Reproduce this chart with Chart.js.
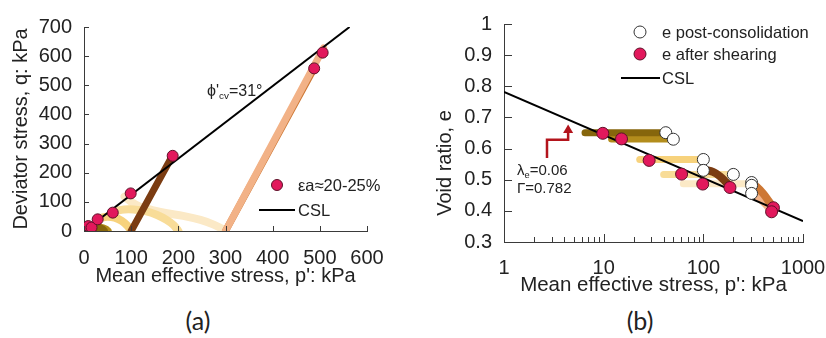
<!DOCTYPE html>
<html lang="en">
<head>
<meta charset="UTF-8" />
<script src="https://cdn.jsdelivr.net/npm/chart.js@4.4.1/dist/chart.umd.min.js"></script>
<title>Stress paths and critical state line</title>
<style>
  body { margin: 0; background: #fff; width: 826px; height: 338px; position: relative; overflow: hidden; }
  .wrap { position: absolute; top: 0; }
  .panel { position: absolute; top: 305px; font-family: Lato, "Open Sans", sans-serif; font-size: 25px; color: #222; transform: translateX(-50%); }
</style>
</head>
<body>
<div class="wrap" style="left:0"><canvas id="chartA" width="413" height="300"></canvas></div>
<div class="wrap" style="left:413px"><canvas id="chartB" width="413" height="300"></canvas></div>
<div class="panel" style="left:198px">(a)</div>
<div class="panel" style="left:640px">(b)</div>
<script>
// ---- (a) q : p' ----
const cslP = [0, 563];
const cslQ = [0, 700];

// undrained paths, p'0 = 42, 50, 100, 200, 300 kPa
const u42P = [42, 38, 31, 22, 14, 9];
const u42Q = [0, 6, 11, 14, 16, 17];
const u50P = [50, 46, 40, 32, 24, 16];
const u50Q = [0, 5, 9, 12, 13, 12];
const u100P = [100, 92, 80, 65, 50, 38, 29];
const u100Q = [0, 18, 35, 46, 49, 46, 40];
const u200P = [200, 190, 175, 155, 130, 105, 85, 65];
const u200Q = [0, 20, 38, 55, 68, 74, 74, 68];
const u300P = [300, 295, 275, 247, 210, 176, 145, 119, 100, 86];
const u300Q = [0, 6, 22, 38, 52, 61, 72, 83, 100, 118];

// drained paths
const d100P = [100, 188];
const d100Q = [0, 260];
const d300aP = [300, 488];
const d300aQ = [0, 558];
const d300bP = [300, 508];
const d300bQ = [0, 628];

// state at end of shearing (axial strain 20-25 %)
const endP = [9, 16, 29, 61, 99, 188, 488, 506];
const endQ = [17, 12, 40, 63, 129, 258, 558, 612];

// ---- (b) e : log p' ----
const lineP = [1, 1000];
const lineE = [0.782, 0.367];
const b42P = [6.5, 42];
const b42E = [0.651, 0.651];
const b50P = [12, 50];
const b50E = [0.631, 0.631];
const b100P = [23, 100];
const b100E = [0.565, 0.565];
const b200P = [40, 200];
const b200E = [0.517, 0.517];
const b300P = [63, 305];
const b300E = [0.487, 0.487];
const c100P = [104, 125, 147, 168, 185];
const c100E = [0.532, 0.525, 0.511, 0.493, 0.479];
const c300aP = [305, 340, 400, 460, 500];
const c300aE = [0.489, 0.478, 0.455, 0.428, 0.41];
const c300bP = [305, 350, 420, 484];
const c300bE = [0.456, 0.445, 0.423, 0.399];
const consP = [42, 50, 100, 100, 200, 305, 305, 305];
const consE = [0.651, 0.63, 0.565, 0.53, 0.517, 0.491, 0.482, 0.456];
const shearP = [9.8, 15.1, 28.6, 60.5, 98.6, 185, 505, 484];
const shearE = [0.649, 0.631, 0.562, 0.518, 0.486, 0.475, 0.41, 0.397];

// ticks
const xTicksA = [0, 100, 200, 300, 400, 500, 600];
const yTicksA = [0, 100, 200, 300, 400, 500, 600, 700];
const xMajorB = [1, 10, 100, 1000];
const xMinorB = [2, 3, 4, 5, 6, 7, 8, 9, 20, 30, 40, 50, 60, 70, 80, 90, 200, 300, 400, 500, 600, 700, 800, 900];
const yTicksB = [0.3, 0.4, 0.5, 0.6, 0.7, 0.8, 0.9, 1];

const FONT = '"Liberation Sans", Arial, sans-serif';
const INK = '#222';
const AXIS = '#3a3a3a';
const PINK = '#e2185c';
const PINK_EDGE = '#5e1028';
const C = {
  olive: '#86660c', gold: '#b38d1c', yellow: '#f7d27c', paleYellow: '#f8dc98',
  cream: '#fbe9c6', brown: '#7b3c12', orange: '#cd7734', peach: '#f2b287'
};

Chart.defaults.font.family = FONT;
Chart.defaults.color = INK;

const xy = (xs, ys) => xs.map((x, i) => ({ x, y: ys[i] }));

function path(label, xs, ys, color, order, width = 8) {
  return {
    label, data: xy(xs, ys), showLine: true, borderColor: color, backgroundColor: color,
    borderWidth: width, pointRadius: 0, tension: 0.35, borderCapStyle: 'round',
    borderJoinStyle: 'round', order
  };
}

function csl(xs, ys) {
  return { label: 'CSL', data: xy(xs, ys), showLine: true, borderColor: '#000', borderWidth: 2, pointRadius: 0, order: 1 };
}

function dots(label, xs, ys, fill, edge, r, order = 0) {
  return {
    label, data: xy(xs, ys), showLine: false, pointRadius: r, pointBackgroundColor: fill,
    pointBorderColor: edge, pointBorderWidth: 1, order
  };
}

// text with optional subscripts: parts = [[text, isSub], ...]
function rich(ctx, x, y, parts, size) {
  let cx = x;
  ctx.textBaseline = 'alphabetic';
  ctx.textAlign = 'left';
  parts.forEach(([t, sub]) => {
    const s = sub ? size * 0.62 : size;
    ctx.font = s + 'px ' + FONT;
    ctx.fillText(t, cx, sub ? y + size * 0.2 : y);
    cx += ctx.measureText(t).width;
  });
}

function circle(ctx, x, y, r, fill, edge) {
  ctx.beginPath();
  ctx.arc(x, y, r, 0, Math.PI * 2);
  ctx.fillStyle = fill;
  ctx.fill();
  ctx.lineWidth = 1;
  ctx.strokeStyle = edge;
  ctx.stroke();
}

// tick marks pointing into the plot
const innerTicks = {
  id: 'innerTicks',
  afterDraw(chart, args, o) {
    const { ctx, chartArea: a, scales: { x, y } } = chart;
    ctx.save();
    ctx.strokeStyle = AXIS;
    ctx.lineWidth = 1;
    ctx.beginPath();
    const vx = (v, len) => {
      const px = Math.round(x.getPixelForValue(v)) + 0.5;
      ctx.moveTo(px, a.bottom); ctx.lineTo(px, a.bottom - len);
    };
    o.x.forEach(v => vx(v, o.len));
    (o.xMinor || []).forEach(v => vx(v, o.minorLen));
    o.y.forEach(v => {
      const py = Math.round(y.getPixelForValue(v)) + 0.5;
      ctx.moveTo(a.left, py); ctx.lineTo(a.left + o.len, py);
    });
    ctx.stroke();
    ctx.restore();
  }
};

const notesA = {
  id: 'notesA',
  afterDraw(chart) {
    const { ctx } = chart;
    ctx.save();
    ctx.fillStyle = INK;
    rich(ctx, 207, 96, [['\u03d5\'', false], ['cv', true], ['=31\u00b0', false]], 16);
    circle(ctx, 277, 185, 5.5, PINK, PINK_EDGE);
    ctx.fillStyle = INK;
    rich(ctx, 298, 191, [['\u03b5a\u224820-25%', false]], 16.5);
    ctx.beginPath();
    ctx.moveTo(259, 210); ctx.lineTo(295, 210);
    ctx.lineWidth = 2; ctx.strokeStyle = '#000'; ctx.stroke();
    rich(ctx, 298, 216, [['CSL', false]], 16.5);
    ctx.restore();
  }
};

const notesB = {
  id: 'notesB',
  afterDraw(chart) {
    const { ctx, scales: { x, y } } = chart;
    ctx.save();
    // legend
    circle(ctx, 227, 32, 6, '#fff', '#333');
    circle(ctx, 227, 54, 6, PINK, PINK_EDGE);
    ctx.beginPath();
    ctx.moveTo(208, 78); ctx.lineTo(247, 78);
    ctx.lineWidth = 2; ctx.strokeStyle = '#000'; ctx.stroke();
    ctx.fillStyle = INK;
    rich(ctx, 249, 38, [['e post-consolidation', false]], 16.5);
    rich(ctx, 249, 60, [['e after shearing', false]], 16.5);
    rich(ctx, 249, 84, [['CSL', false]], 16.5);
    // parameters of the line
    rich(ctx, 104, 175, [['\u03bb', false], ['e', true], ['=0.06', false]], 15);
    rich(ctx, 104, 193, [['\u0393=0.782', false]], 15);
    // arrow
    const px = v => x.getPixelForValue(v);
    const py = v => y.getPixelForValue(v);
    ctx.beginPath();
    ctx.moveTo(px(2.7), py(0.570));
    ctx.lineTo(px(2.7), py(0.628));
    ctx.lineTo(px(4.4), py(0.628));
    ctx.lineTo(px(4.4), py(0.652));
    ctx.lineWidth = 2.5; ctx.strokeStyle = '#b3141c'; ctx.stroke();
    ctx.beginPath();
    ctx.moveTo(px(4.4) - 5, py(0.650));
    ctx.lineTo(px(4.4) + 5, py(0.650));
    ctx.lineTo(px(4.4), py(0.677));
    ctx.closePath();
    ctx.fillStyle = '#b3141c'; ctx.fill();
    // y axis title
    ctx.translate(32, 163);
    ctx.rotate(-Math.PI / 2);
    ctx.font = '20px ' + FONT;
    ctx.fillStyle = INK;
    ctx.textAlign = 'center';
    ctx.textBaseline = 'middle';
    ctx.fillText('Void ratio, e', 0, 0);
    ctx.restore();
  }
};

const common = {
  responsive: false,
  animation: false,
  events: [],
  plugins: { legend: { display: false }, tooltip: { enabled: false } }
};

new Chart(document.getElementById('chartA'), {
  type: 'scatter',
  data: {
    datasets: [
      dots('\u03b5a\u224820-25%', endP, endQ, PINK, PINK_EDGE, 5.5),
      csl(cslP, cslQ),
      path('p0 100 drained', d100P, d100Q, C.brown, 2, 7),
      path('p0 300 drained b', d300bP, d300bQ, C.peach, 3, 7),
      path('p0 300 drained a', d300aP, d300aQ, C.orange, 4, 7),
      path('p0 42', u42P, u42Q, C.olive, 5),
      path('p0 50', u50P, u50Q, C.gold, 6),
      path('p0 100', u100P, u100Q, C.yellow, 7),
      path('p0 200', u200P, u200Q, C.paleYellow, 8),
      path('p0 300', u300P, u300Q, C.cream, 9)
    ]
  },
  options: {
    ...common,
    layout: { padding: { top: 27, right: 46, left: 0, bottom: 0 } },
    plugins: { ...common.plugins, innerTicks: { x: xTicksA, y: yTicksA, len: 5 } },
    scales: {
      x: {
        type: 'linear', min: 0, max: 600,
        afterBuildTicks: s => { s.ticks = xTicksA.map(value => ({ value })); },
        ticks: { padding: 15, font: { size: 20 }, maxRotation: 0, autoSkip: false },
        grid: { display: false, drawTicks: false },
        border: { color: AXIS, width: 1 },
        title: { display: true, text: "Mean effective stress, p': kPa", font: { size: 20 }, padding: { top: 0, bottom: 12 } },
        afterFit: s => { s.height = 69; s.paddingLeft = 0; s.paddingRight = 0; }
      },
      y: {
        type: 'linear', min: 0, max: 700,
        afterBuildTicks: s => { s.ticks = yTicksA.map(value => ({ value })); },
        ticks: { padding: 12, font: { size: 20 }, autoSkip: false },
        grid: { display: false, drawTicks: false },
        border: { color: AXIS, width: 1 },
        title: { display: true, text: 'Deviator stress, q: kPa', font: { size: 20 }, padding: { top: 9, bottom: 0 } },
        afterFit: s => { s.width = 84; }
      }
    }
  },
  plugins: [innerTicks, notesA]
});

new Chart(document.getElementById('chartB'), {
  type: 'scatter',
  data: {
    datasets: [
      dots('e after shearing', shearP, shearE, PINK, PINK_EDGE, 6, 0),
      dots('e post-consolidation', consP, consE, '#fff', '#333', 6, 0.5),
      csl(lineP, lineE),
      path('p0 100 drained', c100P, c100E, C.brown, 2),
      path('p0 300 drained a', c300aP, c300aE, C.orange, 3),
      path('p0 300 drained b', c300bP, c300bE, C.peach, 4),
      path('p0 42', b42P, b42E, C.olive, 5, 7),
      path('p0 50', b50P, b50E, C.gold, 6, 7),
      path('p0 100', b100P, b100E, C.yellow, 7, 7),
      path('p0 200', b200P, b200E, C.paleYellow, 8, 7),
      path('p0 300', b300P, b300E, C.cream, 9, 7)
    ]
  },
  options: {
    ...common,
    layout: { padding: { top: 21, right: 23, left: 0, bottom: 0 } },
    plugins: { ...common.plugins, innerTicks: { x: xMajorB, xMinor: xMinorB, y: yTicksB, len: 8, minorLen: 5 } },
    scales: {
      x: {
        type: 'logarithmic', min: 1, max: 1000,
        afterBuildTicks: s => { s.ticks = xMajorB.concat(xMinorB).sort((a, b) => a - b).map(value => ({ value })); },
        ticks: {
          padding: 14, font: { size: 20 }, maxRotation: 0, autoSkip: false,
          callback: v => (xMajorB.includes(v) ? String(v) : '')
        },
        grid: { display: false, drawTicks: false },
        border: { color: AXIS, width: 1 },
        title: { display: true, text: "Mean effective stress, p': kPa", font: { size: 20.5 }, padding: { top: 0, bottom: 2 } },
        afterFit: s => { s.height = 58; s.paddingLeft = 0; s.paddingRight = 0; }
      },
      y: {
        type: 'linear', min: 0.3, max: 1,
        afterBuildTicks: s => { s.ticks = yTicksB.map(value => ({ value })); },
        ticks: { padding: 12, font: { size: 20 }, autoSkip: false, callback: v => String(+v.toFixed(1)) },
        grid: { display: false, drawTicks: false },
        border: { color: AXIS, width: 1 },
        afterFit: s => { s.width = 91; }
      }
    }
  },
  plugins: [innerTicks, notesB]
});
</script>
</body>
</html>
